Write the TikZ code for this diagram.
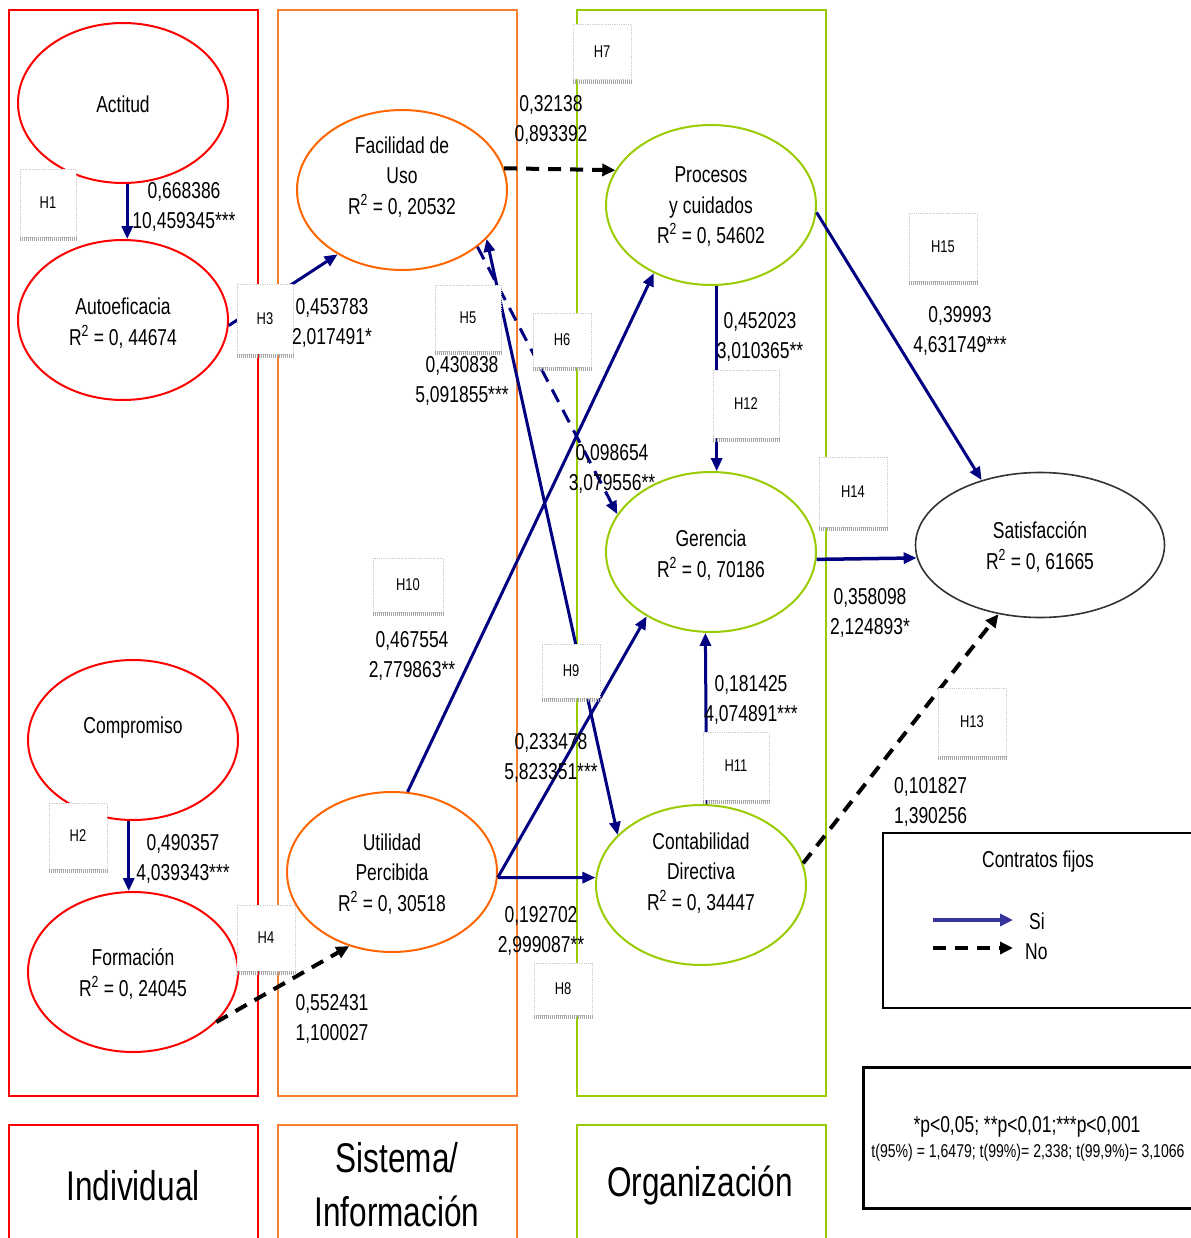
\documentclass[tikz,border=0pt]{standalone}
\usepackage{fontspec}
\setmainfont[FakeStretch=0.76]{Liberation Sans}
\usetikzlibrary{shapes.geometric,arrows.meta}
\definecolor{cred}{RGB}{255,0,0}
\definecolor{corange}{RGB}{255,102,0}
\definecolor{cobox}{RGB}{247,128,48}
\definecolor{cgreen}{RGB}{153,204,0}
\definecolor{cnavy}{RGB}{0,0,128}
\definecolor{csi}{RGB}{51,51,153}
\newcommand{\txtfont}{\fontsize{23}{30.5}\selectfont}
\newcommand{\hfont}{\fontsize{17}{20}\selectfont}
\newcommand{\bigfont}{\fontsize{41.5}{54}\selectfont}
\newcommand{\Hyp}[6]{%
  \node[hyp, minimum width=#4pt, minimum height=#5pt] (#1) at (#2,#3) {#6};
  \draw[hshadow] ([yshift=-2pt]#1.south west) -- ([yshift=-2pt]#1.south east);}
\newcommand{\Rsq}{R\textsuperscript{2}}
\begin{document}
\begin{tikzpicture}[x=1pt,y=-1pt,
  ell/.style={ellipse, draw=#1, line width=2pt, minimum width=210pt, minimum height=160pt, inner sep=0pt, fill=white},
  txt/.style={font=\txtfont, align=center, inner sep=0pt},
  colbox/.style={draw=#1, line width=2pt},
  hyp/.style={fill=white, draw=gray!40, densely dotted, line width=0.8pt, inner sep=0pt, font=\hfont},
  hshadow/.style={draw=gray!70, line width=4pt, dash pattern=on 1pt off 1pt},
  link/.style={draw=cnavy, line width=3pt, -{Triangle[length=13pt,width=11pt]}},
  dlink/.style={draw=cnavy, line width=3pt, {Triangle[length=13pt,width=11pt]}-{Triangle[length=13pt,width=11pt]}},
  navydash/.style={draw=cnavy, line width=3pt, dash pattern=on 14pt off 9pt, -{Triangle[length=13pt,width=11pt]}},
  nolink/.style={draw=black, line width=4pt, dash pattern=on 13pt off 9pt, -{Triangle[length=13pt,width=12pt]}},
  silink/.style={draw=csi, line width=4pt, -{Triangle[length=13pt,width=12pt]}},
]
\useasboundingbox (0,0) rectangle (1190,1238);

% column boxes
\draw[colbox=cred] (9,10) rectangle (258,1096);
\draw[colbox=cobox] (278,10) rectangle (517,1096);
\draw[colbox=cgreen] (577,10) rectangle (826,1096);
\draw[colbox=cred] (9,1250) |- (258,1125) -- (258,1250);
\draw[colbox=cobox] (278,1250) |- (517,1125) -- (517,1250);
\draw[colbox=cgreen] (577,1250) |- (826,1125) -- (826,1250);
\node[font=\bigfont, inner sep=0pt] (individual) at (133,1186) {Individual};
\node[font=\bigfont, inner sep=0pt, align=center] (sistema) at (397,1185) {Sistema/\\Información};
\node[font=\bigfont, inner sep=0pt] (organizacion) at (700,1186) {Organización};

% ellipses
\node[ell=cred] (act) at (123,103) {};
\node[ell=cred] (auto) at (123,320) {};
\node[ell=cred] (comp) at (133,740) {};
\node[ell=cred] (form) at (133,972) {};
\node[ell=corange] (fac) at (402,190) {};
\node[ell=corange] (util) at (392,872) {};
\node[ell=cgreen] (proc) at (711,205) {};
\node[ell=cgreen] (ger) at (711,552) {};
\node[ell=cgreen] (cont) at (701,885) {};
\node[ellipse, draw=black!80, line width=1.6pt, minimum width=249pt, minimum height=145pt, inner sep=0pt] (sat) at (1040,545) {};

\node[txt] (act-t) at (123,104) {Actitud};
\node[txt] (auto-t) at (123,323) {Autoeficacia\\\Rsq{} = 0, 44674};
\node[txt] (comp-t) at (133,728) {Compromiso};
\node[txt] (form-t) at (133,974) {Formación\\\Rsq{} = 0, 24045};
\node[txt] (fac-t) at (402,177) {Facilidad de\\Uso\\\Rsq{} = 0, 20532};
\node[txt] (util-t) at (392,874) {Utilidad\\Percibida\\\Rsq{} = 0, 30518};
\node[txt] (proc-t) at (711,207) {Procesos\\y cuidados\\\Rsq{} = 0, 54602};
\node[txt] (ger-t) at (711,555) {Gerencia\\\Rsq{} = 0, 70186};
\node[txt] (cont-t) at (701,873) {Contabilidad\\Directiva\\\Rsq{} = 0, 34447};
\node[txt] (sat-t) at (1040,547) {Satisfacción\\\Rsq{} = 0, 61665};

% connectors
\draw[link] (act.-87) -- (auto.87);
\draw[link] (comp.-93) -- (form.93);
\draw[link] (auto.-3) -- (fac.-135);
\draw[nolink] (form.-31) -- (util.-120);
\draw[nolink] (fac.12) -- (proc.160);
\draw[dlink] (cont.149) -- (fac.-30);
\draw[navydash] (fac.-37) -- (ger.158);
\draw[link] (util.79) -- (proc.-130);
\draw[link] (util.-3) -- (cont.176);
\draw[link] (util.-3) -- (ger.-135);
\draw[link] (proc.-86) -- (ger.86);
\draw[link] (cont.86) -- (ger.-94);
\draw[link] (proc.-4) -- (sat.132);
\draw[link, line width=3.5pt] (ger.-4) -- (sat.186.5);
\draw[nolink] (cont.12) -- (sat.-121);

% hypothesis boxes
\Hyp{h1}{48}{203}{56}{68}{H1}
\Hyp{h2}{78}{836}{58}{66}{H2}
\Hyp{h3}{265}{319}{56}{70}{H3}
\Hyp{h4}{266}{938}{58}{66}{H4}
\Hyp{h5}{468}{318}{66}{66}{H5}
\Hyp{h6}{562}{340}{58}{54}{H6}
\Hyp{h7}{602}{52}{58}{55}{H7}
\Hyp{h12}{746}{404}{66}{68}{H12}
\Hyp{h15}{943}{247}{68}{68}{H15}
\Hyp{h14}{853}{492}{68}{70}{H14}
\Hyp{h10}{408}{585}{70}{54}{H10}
\Hyp{h9}{571}{671}{58}{54}{H9}
\Hyp{h8}{563}{989}{58}{52}{H8}
\Hyp{h11}{736}{766}{66}{68}{H11}
\Hyp{h13}{972}{722}{68}{68}{H13}

% coefficient labels
\node[txt] (l1) at (184,207) {0,668386\\10,459345***};
\node[txt] (l2) at (183,859) {0,490357\\4,039343***};
\node[txt] (l3) at (332,323) {0,453783\\2,017491*};
\node[txt] (l4) at (332,1019) {0,552431\\1,100027};
\node[txt] (l7) at (551,120) {0,32138\\0,893392};
\node[txt] (l5) at (462,381) {0,430838\\5,091855***};
\node[txt] (l6) at (612,469) {0,098654\\3,079556**};
\node[txt] (l10) at (412,656) {0,467554\\2,779863**};
\node[txt] (l9) at (551,758) {0,233478\\5,823351***};
\node[txt] (l8) at (541,931) {0,192702\\2,999087**};
\node[txt] (l12) at (760,337) {0,452023\\3,010365**};
\node[txt] (l11) at (751,700) {0,181425\\4,074891***};
\node[txt] (l15) at (960,331) {0,39993\\4,631749***};
\node[txt] (l14) at (870,613) {0,358098\\2,124893*};
\node[txt, align=left, anchor=west] (l13) at (894,802) {0,101827\\1,390256};

% legend
\draw[line width=2pt] (1196,833) -- (883,833) -- (883,1008) -- (1196,1008);
\node[txt] (leg-t) at (1038,862) {Contratos fijos};
\coordinate (si-a) at (933,920);
\coordinate (si-b) at (1013,920);
\coordinate (no-a) at (933,948);
\coordinate (no-b) at (1013,948);
\draw[silink] (si-a) -- (si-b);
\draw[nolink] (no-a) -- (no-b);
\node[txt, anchor=west] (si-t) at (1029,921) {Si};
\node[txt, anchor=west] (no-t) at (1025,952) {No};

% significance box
\draw[line width=3pt] (1196,1067) -- (863,1067) -- (863,1208) -- (1196,1208);
\node[txt] (sig1) at (1027,1127) {*p<0,05; **p<0,01;***p<0,001};
\node[font=\fontsize{18.5}{20}\selectfont, inner sep=0pt] (sig2) at (1028,1153) {t(95\%) = 1,6479; t(99\%)= 2,338; t(99,9\%)= 3,1066};
\end{tikzpicture}
\end{document}
